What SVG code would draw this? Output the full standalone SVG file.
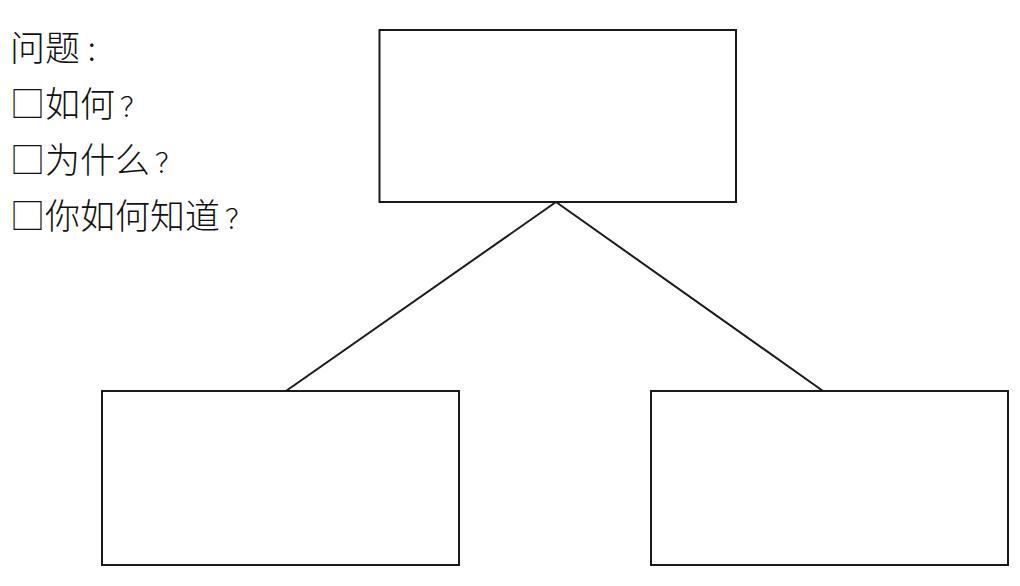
<svg xmlns="http://www.w3.org/2000/svg" width="1020" height="586" viewBox="0 0 1020 586">
  <style>
    .box { fill: #ffffff; stroke: #1a1a1a; stroke-width: 2; }
    .link { fill: none; stroke: #1a1a1a; stroke-width: 2; }
    .q { font-family: "Noto Sans CJK SC", "Noto Sans", sans-serif; font-size: 35px; font-weight: 300; fill: #111111; }
    .p { font-size: 27px; }
  </style>
  <rect width="1020" height="586" fill="#ffffff"/>

  <!-- question prompts -->
  <g id="questions">
    <text class="q" x="10" y="61">问题<tspan class="p" dx="5">：</tspan></text>
    <text class="q" x="10" y="117">□如何<tspan class="p" dx="5">？</tspan></text>
    <text class="q" x="10" y="173">□为什么<tspan class="p" dx="5">？</tspan></text>
    <text class="q" x="10" y="229">□你如何知道<tspan class="p" dx="5">？</tspan></text>
  </g>

  <!-- tree connectors -->
  <g id="connectors">
    <line class="link" x1="556" y1="202" x2="286" y2="391"/>
    <line class="link" x1="556" y1="202" x2="823" y2="391"/>
  </g>

  <g id="node-top">
    <rect class="box" x="379.5" y="30" width="356.5" height="172"/>
  </g>
  <g id="node-left">
    <rect class="box" x="102" y="391" width="357" height="174"/>
  </g>
  <g id="node-right">
    <rect class="box" x="651" y="391" width="357" height="174"/>
  </g>
</svg>
